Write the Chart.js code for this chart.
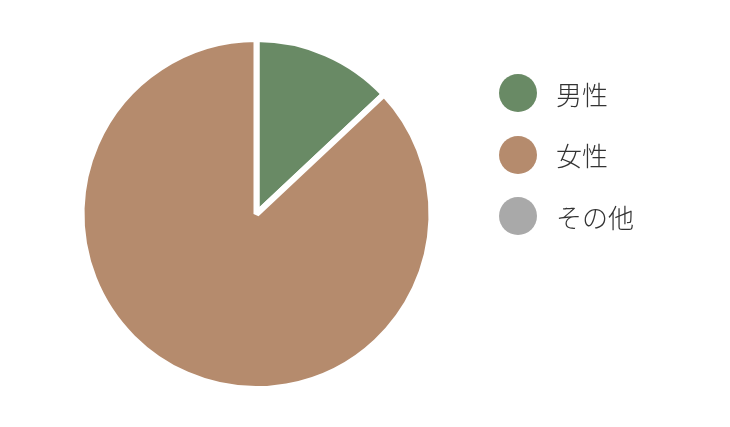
<!DOCTYPE html>
<html>
<head>
<meta charset="utf-8">
<script src="https://cdn.jsdelivr.net/npm/chart.js@4.4.0/dist/chart.umd.min.js"></script>
<style>
  html, body { margin: 0; padding: 0; background: #ffffff; }
  #wrap { position: relative; width: 730px; height: 427px; }
  #chartBox { position: absolute; left: 0; top: 0; width: 513px; height: 427px; }
  #legend { position: absolute; left: 499px; top: 74px; margin: 0; padding: 0; list-style: none; }
  #legend li { display: flex; align-items: center; height: 38px; margin-bottom: 23.5px;
    font-family: "Noto Sans CJK JP", "Noto Sans", sans-serif; font-size: 26px; color: #333333; font-weight: 300; }
  #legend .dot { width: 38px; height: 38px; border-radius: 50%; margin-right: 19px; flex: none; }
</style>
</head>
<body>
<div id="wrap">
  <div id="chartBox"><canvas id="c"></canvas></div>
  <ul id="legend"></ul>
</div>
<script>
const categories = ['男性', '女性', 'その他'];
const shares = [13, 87, 0];
const sliceColors = ['#698a65', '#b58b6d', '#a9a9a9'];

new Chart(document.getElementById('c'), {
  type: 'pie',
  data: {
    labels: categories,
    datasets: [{
      data: shares,
      backgroundColor: sliceColors,
      borderColor: '#ffffff',
      borderWidth: 6
    }]
  },
  options: {
    responsive: true,
    maintainAspectRatio: false,
    animation: false,
    events: [],
    layout: { padding: { top: 36, bottom: 35 } },
    plugins: {
      legend: { display: false },
      tooltip: { enabled: false }
    }
  }
});

const legend = document.getElementById('legend');
categories.forEach((name, i) => {
  const li = document.createElement('li');
  const dot = document.createElement('span');
  dot.className = 'dot';
  dot.style.background = sliceColors[i];
  li.appendChild(dot);
  li.appendChild(document.createTextNode(name));
  legend.appendChild(li);
});
</script>
</body>
</html>
